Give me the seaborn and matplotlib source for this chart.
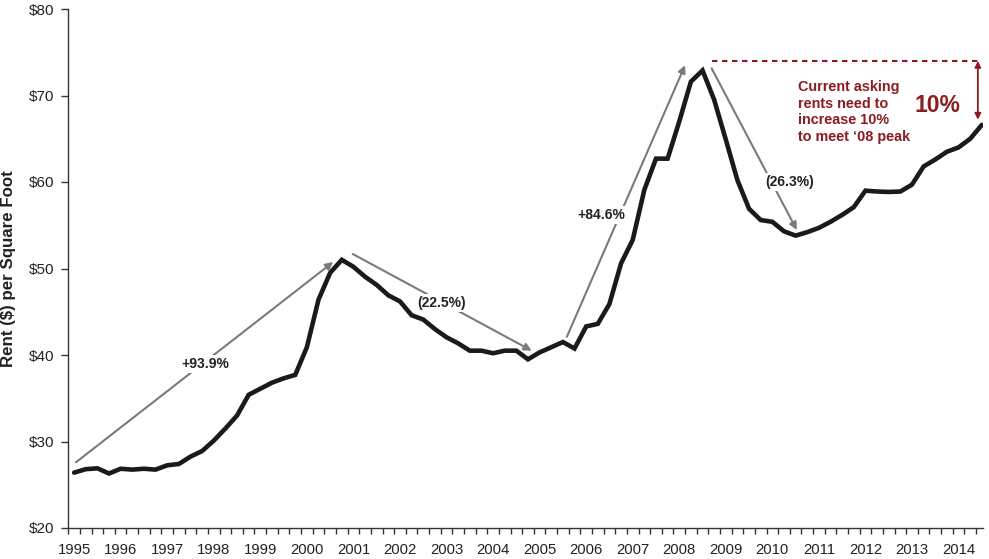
import matplotlib
matplotlib.use("Agg")
import matplotlib.pyplot as plt
import numpy as np
import pandas as pd
import seaborn as sns

# ---- data -------------------------------------------------------------
start_year = 1995
n_quarters = 79  # 1995 Q1 .. 2014 Q3
rent = [26.4, 26.8, 26.9, 26.3, 26.85, 26.75, 26.85, 26.75,
        27.25, 27.4, 28.25, 28.9, 30.1, 31.5, 33.0, 35.4,
        36.1, 36.8, 37.3, 37.7, 40.9, 46.4, 49.5, 51.0,
        50.2, 49.05, 48.1, 46.9, 46.2, 44.6, 44.1, 43.0,
        42.05, 41.35, 40.5, 40.5, 40.2, 40.5, 40.5, 39.5,
        40.3, 40.9, 41.5, 40.75, 43.3, 43.6, 45.9, 50.6,
        53.3, 59.1, 62.7, 62.7, 67.0, 71.6, 72.9, 69.5,
        64.9, 60.2, 56.9, 55.6, 55.4, 54.3, 53.8, 54.2,
        54.7, 55.4, 56.2, 57.1, 59.0, 58.9, 58.85, 58.9,
        59.7, 61.8, 62.6, 63.5, 64.0, 65.0, 66.6]
year_labels = [str(y) for y in range(1995, 2015)]
y_ticks = [20, 30, 40, 50, 60, 70, 80]
y_tick_labels = ["$20", "$30", "$40", "$50", "$60", "$70", "$80"]

# quarter mid-points in fractional years
quarter_time = [start_year + (q + 0.5) / 4 for q in range(n_quarters)]
df = pd.DataFrame({"t": quarter_time, "rent": rent})

# annotations: (label, arrow start, arrow end, label position)
changes = [
    ("+93.9%", (1995.165, 27.6), (2000.69, 50.75), (1997.95, 38.96)),
    ("(22.5%)", (2001.11, 51.68), (2004.955, 40.5), (2003.02, 46.05)),
    ("+84.6%", (2005.71, 42.1), (2008.25, 73.5), (2006.46, 56.2)),
    ("(26.3%)", (2008.82, 73.15), (2010.65, 54.45), (2010.50, 60.0)),
]
peak_line_y = 74.0
note_text = "Current asking\nrents need to\nincrease 10%\nto meet \u201808 peak"
big_text = "10%"

# ---- style ------------------------------------------------------------
sns.set_style("ticks")
plt.rcParams["font.family"] = ["Liberation Sans", "DejaVu Sans"]

red = "#8B1C22"
gray = "#7a7a7a"
txt = "#222222"

fig = plt.figure(figsize=(9.89, 5.59), dpi=100)
ax = fig.add_axes([68.3 / 989, 31 / 559, (983 - 68.3) / 989, (528 - 9) / 559])

sns.lineplot(data=df, x="t", y="rent", ax=ax, color="#1a1a1a", lw=3.3,
             solid_joinstyle="miter", zorder=3)

ax.set_xlim(1995.0, 2014.65)
ax.set_ylim(20, 80)

# y axis
ax.set_yticks(y_ticks)
ax.set_yticklabels(y_tick_labels)
ax.tick_params(axis="y", length=5, width=1, color="#333333", labelsize=11,
               labelcolor=txt, pad=5)

# x axis: labels at year + 0.125, quarter tick marks as minor ticks
ax.set_xticks([1995 + i + 0.125 for i in range(len(year_labels))])
ax.set_xticklabels(year_labels)
ax.set_xticks([1995 + 0.25 * k for k in range(0, 79)], minor=True)
ax.tick_params(axis="x", which="major", length=0, labelsize=10.7,
               labelcolor=txt, pad=10.5)
ax.tick_params(axis="x", which="minor", length=4, width=1, color="#333333")

for s in ["top", "right"]:
    ax.spines[s].set_visible(False)
for s in ["left", "bottom"]:
    ax.spines[s].set_color("#333333")
    ax.spines[s].set_linewidth(1.0)

ax.set_xlabel("")
ax.set_ylabel("Rent ($) per Square Foot", fontsize=12.2, fontweight="bold",
              color=txt)
ax.yaxis.set_label_coords(-0.057, 0.5)

# change arrows
for label, p0, p1, lp in changes:
    ax.annotate("", xy=p1, xytext=p0,
                arrowprops=dict(arrowstyle="-|>", color=gray, lw=1.5,
                                mutation_scale=11, shrinkA=0, shrinkB=0),
                zorder=2)
    ax.text(lp[0], lp[1], label, ha="center", va="center", fontsize=10,
            fontweight="bold", color=txt, zorder=4,
            bbox=dict(fc="white", ec="none", pad=1.5))

# peak reference
ax.plot([2008.82, 2014.54], [peak_line_y, peak_line_y], color=red, lw=1.5,
        ls=(0, (2.6, 2.2)), zorder=2)
ax.annotate("", xy=(2014.54, 67.2), xytext=(2014.54, peak_line_y),
            arrowprops=dict(arrowstyle="<|-|>", color=red, lw=1.3,
                            mutation_scale=9, shrinkA=0, shrinkB=0))
ax.text(2010.68, 71.8, note_text, ha="left", va="top", fontsize=10.4,
        fontweight="bold", color=red, linespacing=1.24)
ax.text(2013.67, 68.8, big_text, ha="center", va="center", fontsize=16.5,
        fontweight="bold", color=red)

fig.savefig("out.png", dpi=100)
